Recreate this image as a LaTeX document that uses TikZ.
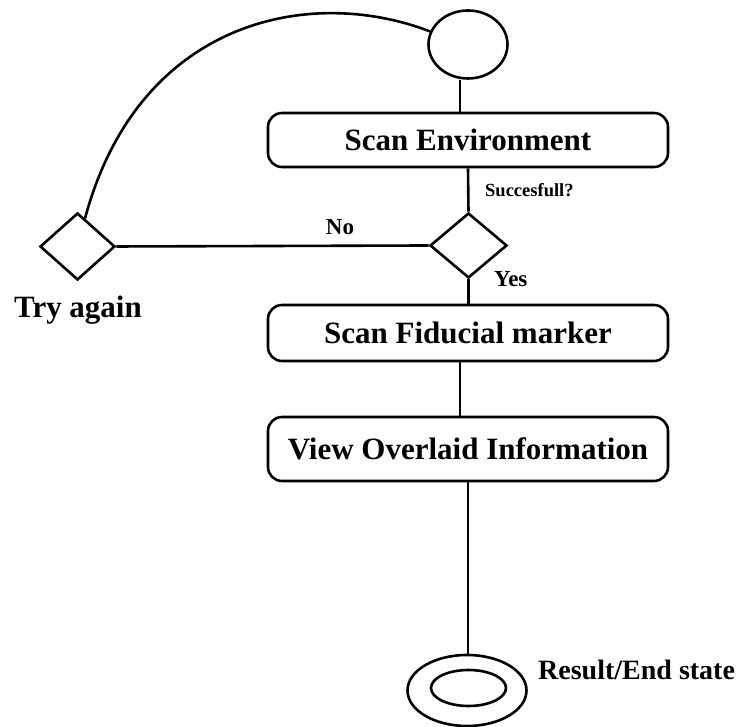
\documentclass[tikz,border=0pt]{standalone}
\usepackage{fontspec}
\setmainfont{Liberation Serif}
\usetikzlibrary{shapes.geometric}
\begin{document}
\begin{tikzpicture}[x=1pt,y=1pt,
  line/.style={line width=2.6pt},
  actbox/.style={draw,line width=2.6pt,rounded corners=14pt,minimum width=400pt,inner sep=0pt,font=\fontsize{31}{31}\selectfont\bfseries},
  dec/.style={draw,diamond,line width=2.6pt,inner sep=0pt},
  lbl/.style={inner sep=0pt}]
\useasboundingbox (0,0) rectangle (740,727);
\node[draw,ellipse,line width=2.6pt,minimum width=79pt,minimum height=68pt,inner sep=0pt] (circ) at (468,682.5) {};
\node[actbox,minimum height=54pt] (env) at (468,587) {Scan Environment};
\node[dec,minimum width=77pt,minimum height=65pt] (chk) at (468.5,481.5) {};
\node[dec,minimum width=75pt,minimum height=67pt] (retry) at (77.5,480.5) {};
\node[actbox,minimum height=56pt] (fid) at (468,394) {Scan Fiducial marker};
\node[actbox,minimum height=64pt] (view) at (468,278) {View Overlaid Information};
\node[draw,ellipse,line width=2.6pt,minimum width=119pt,minimum height=71pt,inner sep=0pt] (endo) at (467,36.5) {};
\node[draw,ellipse,line width=2.6pt,minimum width=75pt,minimum height=36pt,inner sep=0pt] (endi) at (468.5,39) {};
% labels
\node[lbl,anchor=base west,font=\fontsize{18.5}{18.5}\selectfont\bfseries] (succ) at (485,530) {Succesfull?};
\node[lbl,anchor=base,font=\fontsize{23}{23}\selectfont\bfseries] (no) at (340,492) {No};
\node[lbl,anchor=base west,font=\fontsize{23}{23}\selectfont\bfseries] (yes) at (494,440) {Yes};
\node[lbl,anchor=base,font=\fontsize{31}{31}\selectfont\bfseries] (try) at (78,409) {Try again};
\node[lbl,anchor=base west,font=\fontsize{28}{28}\selectfont\bfseries] (res) at (538,47) {Result/End state};
% connectors
\draw[line] ([xshift=-8pt]env.north) -- ([xshift=-8pt]env.north |- circ.south);
\draw[line] (env.south) -- (chk.north);
\draw[line] (chk.west) -- (retry.east);
\draw[line] (chk.south) -- (chk.south |- fid.north);
\draw[line] ([xshift=-8pt]fid.south) -- ([xshift=-8pt]view.north);
\draw[line] (view.south) -- (view.south |- endo.north);
\draw[line] (retry.75) .. controls +(75:204) and +(159:131) .. (circ.161);
\end{tikzpicture}
\end{document}
